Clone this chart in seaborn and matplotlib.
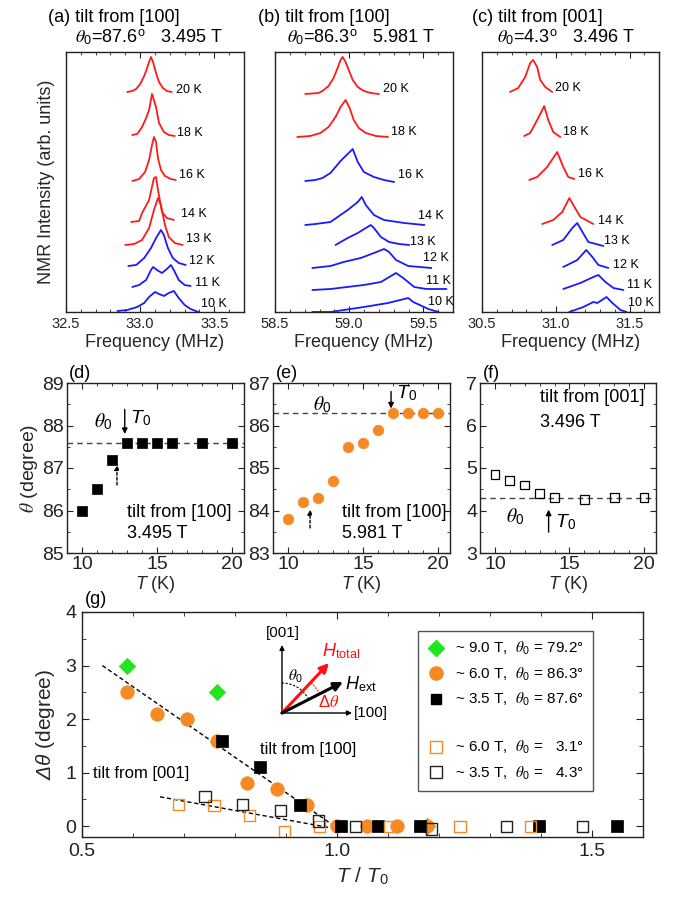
import matplotlib
matplotlib.use("Agg")
import matplotlib.pyplot as plt
from matplotlib.lines import Line2D
from matplotlib.patches import Arc
from matplotlib.ticker import MultipleLocator, FormatStrFormatter
import seaborn as sns

# ---------------- NMR spectra (frequency in MHz, intensity in arb. units) ----------------
TEMPS_A = [20, 18, 16, 14, 13, 12, 11, 10]
T0_A = 13.0
FREQ_A = [
    [32.913, 32.947, 32.973, 33.0, 33.027, 33.047, 33.06, 33.073, 33.087, 33.107, 33.127, 33.153, 33.18, 33.213],
    [32.947, 32.98, 33.013, 33.04, 33.06, 33.08, 33.107, 33.127, 33.16, 33.193, 33.233],
    [32.947, 32.993, 33.033, 33.06, 33.08, 33.093, 33.107, 33.12, 33.14, 33.167, 33.207, 33.24],
    [32.94, 32.993, 33.013, 33.06, 33.093, 33.107, 33.12, 33.147, 33.18, 33.227],
    [32.9, 32.96, 33.013, 33.06, 33.093, 33.12, 33.14, 33.167, 33.193, 33.233, 33.287],
    [32.92, 32.973, 33.027, 33.073, 33.107, 33.14, 33.16, 33.187, 33.22, 33.26, 33.307],
    [32.947, 32.993, 33.04, 33.073, 33.087, 33.113, 33.147, 33.18, 33.207, 33.227, 33.26, 33.3, 33.34],
    [32.847, 32.913, 32.98, 33.027, 33.06, 33.1, 33.127, 33.16, 33.193, 33.227, 33.26, 33.3, 33.34, 33.393],
]
INT_A = [
    [220, 221, 223, 228, 236, 244, 250, 255, 250, 239, 230, 224, 221, 220],
    [177, 178, 185, 194, 202, 218, 205, 189, 180, 177, 176],
    [131, 133, 140, 152, 167, 175, 170, 154, 142, 136, 133, 132],
    [90, 91, 99, 112, 134, 135, 122, 100, 94, 92],
    [67, 68, 72, 84, 102, 114, 107, 87, 75, 69, 67],
    [46, 47, 54, 64, 74, 82, 77, 64, 54, 49, 47],
    [25, 27, 32, 42, 45, 42, 39, 43, 47, 42, 32, 27, 26],
    [1, 2, 5, 9, 15, 20, 18, 16, 19, 21, 14, 7, 3, 0],
]
LABEL_F_A = [33.24, 33.247, 33.26, 33.273, 33.307, 33.327, 33.367, 33.413]
LABEL_I_A = [222, 179, 137, 98, 73, 51, 29, 8]

TEMPS_B = [20, 18, 16, 14, 13, 12, 11, 10]
T0_B = 17.0
FREQ_B = [
    [58.704, 58.793, 58.82, 58.861, 58.895, 58.922, 58.942, 58.956, 58.976, 58.997, 59.024, 59.058, 59.099, 59.146, 59.201],
    [58.65, 58.738, 58.806, 58.861, 58.908, 58.942, 58.976, 59.003, 59.031, 59.065, 59.112, 59.18, 59.262],
    [58.704, 58.772, 58.82, 58.874, 58.942, 58.99, 59.024, 59.058, 59.099, 59.167, 59.235, 59.303],
    [58.704, 58.772, 58.874, 58.99, 59.058, 59.085, 59.112, 59.167, 59.235, 59.371, 59.507],
    [58.908, 58.99, 59.058, 59.112, 59.146, 59.167, 59.214, 59.269, 59.337, 59.405],
    [58.752, 58.874, 58.963, 59.078, 59.167, 59.235, 59.269, 59.316, 59.398, 59.554],
    [58.752, 58.874, 59.099, 59.214, 59.316, 59.364, 59.439, 59.52, 59.656],
    [58.752, 58.874, 59.099, 59.262, 59.398, 59.432, 59.534, 59.602],
]
INT_B = [
    [218, 219, 221, 226, 234, 244, 252, 255, 250, 242, 232, 225, 221, 219, 218],
    [175, 176, 179, 185, 195, 205, 212, 204, 192, 184, 179, 176, 175],
    [131, 132, 134, 139, 151, 158, 163, 150, 140, 135, 132, 130],
    [87, 88, 90, 102, 110, 115, 107, 97, 92, 89, 87],
    [67, 74, 79, 84, 87, 84, 75, 70, 68, 67],
    [44, 46, 50, 54, 59, 63, 60, 52, 46, 44],
    [22, 23, 27, 30, 39, 34, 25, 23, 23],
    [0, 0, 5, 9, 14, 10, 3, 0],
]
LABEL_F_B = [59.228, 59.282, 59.33, 59.466, 59.412, 59.5, 59.52, 59.534]
LABEL_I_B = [223, 180, 137, 96, 70, 54, 31, 10]

TEMPS_C = [20, 18, 16, 14, 13, 12, 11, 10]
T0_C = 13.5
FREQ_C = [
    [30.69, 30.745, 30.793, 30.827, 30.847, 30.874, 30.895, 30.929, 30.976],
    [30.786, 30.827, 30.874, 30.922, 30.949, 30.983, 31.031],
    [30.82, 30.874, 30.942, 31.01, 31.051, 31.085, 31.126],
    [30.908, 30.983, 31.044, 31.092, 31.119, 31.167, 31.255],
    [30.976, 31.051, 31.112, 31.146, 31.173, 31.221, 31.323],
    [31.051, 31.146, 31.207, 31.248, 31.289, 31.357],
    [31.051, 31.167, 31.255, 31.289, 31.337, 31.391, 31.459],
    [31.092, 31.187, 31.255, 31.282, 31.344, 31.384, 31.439, 31.48],
]
INT_C = [
    [220, 224, 235, 249, 252, 245, 232, 225, 220],
    [176, 179, 192, 206, 192, 180, 175],
    [132, 135, 145, 160, 145, 135, 133],
    [88, 92, 100, 114, 107, 95, 88],
    [67, 72, 84, 89, 82, 70, 66],
    [45, 52, 62, 55, 47, 44],
    [23, 29, 35, 37, 30, 24, 22],
    [0, 5, 10, 9, 15, 9, 2, 0],
]
LABEL_F_C = [30.997, 31.051, 31.153, 31.289, 31.33, 31.391, 31.486, 31.493]
LABEL_I_C = [224, 180, 138, 91, 71, 47, 27, 9]

# ---------------- tilt angle vs temperature ----------------
T_D = [10, 11, 12, 13, 14, 15, 16, 18, 20]
THETA_D = [86.0, 86.5, 87.2, 87.6, 87.6, 87.6, 87.6, 87.6, 87.6]
THETA0_D = 87.6

T_E = [10, 11, 12, 13, 14, 15, 16, 17, 18, 19, 20]
THETA_E = [83.8, 84.2, 84.3, 84.7, 85.5, 85.6, 85.9, 86.3, 86.3, 86.3, 86.3]
THETA0_E = 86.3

T_F = [10, 11, 12, 13, 14, 16, 18, 20]
THETA_F = [4.85, 4.7, 4.6, 4.4, 4.3, 4.25, 4.3, 4.3]
THETA0_F = 4.3

# ---------------- deviation vs reduced temperature ----------------
G9_X = [0.588, 0.765, 1.176]
G9_Y = [3.0, 2.5, 0.0]
G6_X = [0.588, 0.647, 0.706, 0.765, 0.824, 0.882, 0.941, 1.0, 1.059, 1.118, 1.176]
G6_Y = [2.5, 2.1, 2.0, 1.6, 0.8, 0.7, 0.4, 0.0, 0.0, 0.0, 0.0]
G35_X = [0.775, 0.849, 0.927, 1.008, 1.080, 1.163, 1.396, 1.549]
G35_Y = [1.6, 1.1, 0.4, 0.0, 0.0, 0.0, 0.0, 0.0]
G6C_X = [0.690, 0.759, 0.828, 0.897, 0.966, 1.103, 1.241, 1.379]
G6C_Y = [0.4, 0.39, 0.2, -0.1, 0.0, 0.0, 0.0, 0.0]
G35C_X = [0.741, 0.815, 0.889, 0.963, 1.037, 1.185, 1.333, 1.481]
G35C_Y = [0.55, 0.4, 0.3, 0.1, 0.0, -0.05, 0.0, 0.0]
FIT100_X = [0.54, 1.0]
FIT100_Y = [3.0, -0.03]
FIT001_X = [0.653, 1.0]
FIT001_Y = [0.55, -0.05]

LEGEND_LABELS = [
    r"~ 9.0 T,  $\theta_{\mathit{0}}$ = 79.2°",
    r"~ 6.0 T,  $\theta_{\mathit{0}}$ = 86.3°",
    r"~ 3.5 T,  $\theta_{\mathit{0}}$ = 87.6°",
    " ",
    r"~ 6.0 T,  $\theta_{\mathit{0}}$ =   3.1°",
    r"~ 3.5 T,  $\theta_{\mathit{0}}$ =   4.3°",
]

# ---------------- style ----------------
sns.set_style("ticks", {"xtick.direction": "in", "ytick.direction": "in"})
plt.rcParams.update({
    "font.family": ["Liberation Sans", "DejaVu Sans"],
    "mathtext.fontset": "custom",
    "mathtext.rm": "Liberation Sans",
    "mathtext.it": "STIXGeneral:italic",
    "mathtext.sf": "Liberation Sans:italic",
    "mathtext.bf": "Liberation Sans:bold",
    "axes.linewidth": 1.0,
    "axes.edgecolor": "#222222",
    "xtick.color": "#222222",
    "ytick.color": "#222222",
    "text.color": "black",
})

RED = "#ff1a1a"
BLUE = "#1a1aff"
ORANGE = "#f58a24"
GREEN = "#1fe61f"

W, H = 673, 901
fig = plt.figure(figsize=(W / 100, H / 100), dpi=100)


def box(l, t, r, b):
    return [l / W, 1 - b / H, (r - l) / W, (b - t) / H]


def ftext(x, y, s, **kw):
    fig.text(x / W, 1 - y / H, s, **kw)


# ---------------- spectra panels ----------------
ax_a = fig.add_axes(box(66, 52, 244, 312))
ax_b = fig.add_axes(box(275, 52, 453, 312))
ax_c = fig.add_axes(box(482, 52, 659, 312))

spectra = [
    (ax_a, 32.5, TEMPS_A, T0_A, FREQ_A, INT_A, LABEL_F_A, LABEL_I_A),
    (ax_b, 58.5, TEMPS_B, T0_B, FREQ_B, INT_B, LABEL_F_B, LABEL_I_B),
    (ax_c, 30.5, TEMPS_C, T0_C, FREQ_C, INT_C, LABEL_F_C, LABEL_I_C),
]
for ax, x0, temps, t0, freqs, ints, lf, li in spectra:
    for T, f, I, fx, iy in zip(temps, freqs, ints, lf, li):
        col = RED if T >= t0 else BLUE
        sns.lineplot(x=f, y=I, ax=ax, color=col, lw=1.3, sort=False, estimator=None)
        ax.text(fx, iy, f"{T} K", fontsize=9, ha="left", va="center")
    ax.set_xlim(x0, x0 + 1.2)
    ax.set_ylim(0, 260)
    ax.set_yticks([])
    ax.set_ylabel("")
    ax.xaxis.set_major_locator(MultipleLocator(0.5))
    ax.xaxis.set_minor_locator(MultipleLocator(0.1))
    ax.xaxis.set_major_formatter(FormatStrFormatter("%.1f"))
    ax.tick_params(which="both", top=True, direction="in", labelsize=10.5)
    ax.tick_params(which="major", length=4)
    ax.tick_params(which="minor", length=2.5)
    ax.set_xlabel("Frequency (MHz)", fontsize=13, labelpad=2)

ax_a.set_ylabel("NMR Intensity (arb. units)", fontsize=13, labelpad=8)

ftext(48, 22, "(a) tilt from [100]", fontsize=13, va="baseline")
ftext(258, 22, "(b) tilt from [100]", fontsize=13, va="baseline")
ftext(472, 22, "(c) tilt from [001]", fontsize=13, va="baseline")
ftext(75, 43, r"$\theta_0$=87.6$^{\rm o}$   3.495 T", fontsize=13, va="baseline")
ftext(287, 43, r"$\theta_0$=86.3$^{\rm o}$   5.981 T", fontsize=13, va="baseline")
ftext(497, 43, r"$\theta_0$=4.3$^{\rm o}$   3.496 T", fontsize=13, va="baseline")

# ---------------- angle panels ----------------
ax_d = fig.add_axes(box(67, 383, 244, 553))
ax_e = fig.add_axes(box(273, 383, 450, 553))
ax_f = fig.add_axes(box(480, 383, 656, 553))

sns.scatterplot(x=T_D, y=THETA_D, ax=ax_d, marker="s", s=45, color="black",
                edgecolor="black", linewidth=0.5, zorder=3)
sns.scatterplot(x=T_E, y=THETA_E, ax=ax_e, marker="o", s=58, color=ORANGE,
                edgecolor=ORANGE, linewidth=0.5, zorder=3)
sns.scatterplot(x=T_F, y=THETA_F, ax=ax_f, marker="s", s=40, color="black",
                facecolor="none", edgecolor="black", linewidth=0.9, zorder=3)

for ax, th0, lo in ((ax_d, THETA0_D, 85), (ax_e, THETA0_E, 83), (ax_f, THETA0_F, 3)):
    ax.axhline(th0, color="#444444", lw=1, ls=(0, (4, 3)), zorder=1)
    ax.set_xlim(9, 20.8)
    ax.set_ylim(lo, lo + 4)
    ax.xaxis.set_major_locator(MultipleLocator(5))
    ax.xaxis.set_minor_locator(MultipleLocator(1))
    ax.yaxis.set_major_locator(MultipleLocator(1))
    ax.yaxis.set_minor_locator(MultipleLocator(0.5))
    ax.tick_params(which="both", top=True, right=True, direction="in", labelsize=14)
    ax.tick_params(which="major", length=4, pad=2)
    ax.tick_params(which="minor", length=2)
    ax.set_xlabel(r"$\mathsf{T}$ (K)", fontsize=13, labelpad=1)
    ax.set_ylabel("")

ax_d.set_ylabel(r"$\theta$ (degree)", fontsize=14, labelpad=2)

ftext(69, 373, "(d)", fontsize=13, va="center")
ftext(276, 373, "(e)", fontsize=13, va="center")
ftext(483, 373, "(f)", fontsize=13, va="center")

arrow_kw = dict(arrowstyle="-|>", color="black", lw=1, mutation_scale=8, shrinkA=0, shrinkB=0)
dash_kw = dict(arrowstyle="-|>", color="black", lw=1, ls=(0, (2, 1.5)), mutation_scale=7,
               shrinkA=0, shrinkB=0)

# (d)
ax_d.text(11.4, 88.08, r"$\theta_0$", fontsize=14, ha="center", va="center")
ax_d.annotate("", xy=(12.85, 87.8), xytext=(12.85, 88.38), arrowprops=arrow_kw)
ax_d.text(13.2, 88.18, r"$\mathsf{T}_0$", fontsize=14, ha="left", va="center")
ax_d.annotate("", xy=(12.33, 87.07), xytext=(12.33, 86.6), arrowprops=dash_kw)
ax_d.text(13.0, 85.96, "tilt from [100]", fontsize=13, ha="left", va="center")
ax_d.text(13.0, 85.45, "3.495 T", fontsize=13, ha="left", va="center")

# (e)
ax_e.text(12.27, 86.5, r"$\theta_0$", fontsize=14, ha="center", va="center")
ax_e.annotate("", xy=(16.87, 86.4), xytext=(16.87, 86.8), arrowprops=arrow_kw)
ax_e.text(17.2, 86.76, r"$\mathsf{T}_0$", fontsize=14, ha="left", va="center")
ax_e.annotate("", xy=(11.47, 84.02), xytext=(11.47, 83.59), arrowprops=dash_kw)
ax_e.text(13.6, 83.96, "tilt from [100]", fontsize=13, ha="left", va="center")
ax_e.text(13.6, 83.45, "5.981 T", fontsize=13, ha="left", va="center")

# (f)
ax_f.text(13.0, 6.65, "tilt from [001]", fontsize=13, ha="left", va="center")
ax_f.text(13.0, 6.08, "3.496 T", fontsize=13, ha="left", va="center")
ax_f.text(11.33, 3.85, r"$\theta_0$", fontsize=14, ha="center", va="center")
ax_f.annotate("", xy=(13.6, 4.02), xytext=(13.6, 3.49), arrowprops=arrow_kw)
ax_f.text(14.0, 3.73, r"$\mathsf{T}_0$", fontsize=14, ha="left", va="center")

# ---------------- deviation panel ----------------
ax_g = fig.add_axes(box(82, 612, 643, 837))
sns.lineplot(x=FIT100_X, y=FIT100_Y, ax=ax_g, color="black", lw=1, ls=(0, (3, 2)),
             sort=False, estimator=None, zorder=2)
sns.lineplot(x=FIT001_X, y=FIT001_Y, ax=ax_g, color="black", lw=1, ls=(0, (3, 2)),
             sort=False, estimator=None, zorder=2)
sns.scatterplot(x=G9_X, y=G9_Y, ax=ax_g, marker="D", s=70, color=GREEN,
                edgecolor=GREEN, linewidth=0.5, zorder=3)
sns.scatterplot(x=G6_X, y=G6_Y, ax=ax_g, marker="o", s=95, color=ORANGE,
                edgecolor=ORANGE, linewidth=0.5, zorder=4)
sns.scatterplot(x=G35_X, y=G35_Y, ax=ax_g, marker="s", s=75, color="black",
                edgecolor="black", linewidth=0.5, zorder=5)
sns.scatterplot(x=G6C_X, y=G6C_Y, ax=ax_g, marker="s", s=65, color=ORANGE,
                facecolor="none", edgecolor=ORANGE, linewidth=1.0, zorder=6)
sns.scatterplot(x=G35C_X, y=G35C_Y, ax=ax_g, marker="s", s=65, color="black",
                facecolor="none", edgecolor="#222222", linewidth=1.0, zorder=6)

ax_g.set_xlim(0.5, 1.6)
ax_g.set_ylim(-0.2, 4)
ax_g.xaxis.set_major_locator(MultipleLocator(0.5))
ax_g.xaxis.set_minor_locator(MultipleLocator(0.1))
ax_g.xaxis.set_major_formatter(FormatStrFormatter("%.1f"))
ax_g.yaxis.set_major_locator(MultipleLocator(1))
ax_g.yaxis.set_minor_locator(MultipleLocator(0.5))
ax_g.tick_params(which="both", top=True, right=True, direction="in", labelsize=14)
ax_g.tick_params(which="major", length=5, pad=4)
ax_g.tick_params(which="minor", length=3)
ax_g.set_xlabel(r"$\mathsf{T}$ / $\mathsf{T}_0$", fontsize=15, labelpad=4)
ax_g.set_ylabel(r"$\mathsf{\Delta\theta}$ (degree)", fontsize=15, labelpad=6)

ax_g.text(0.849, 1.43, "tilt from [100]", fontsize=12, ha="left", va="center")
ax_g.text(0.522, 0.99, "tilt from [001]", fontsize=12, ha="left", va="center")
ftext(85, 600, "(g)", fontsize=13, va="center")

handles = [
    Line2D([], [], ls="none", marker="D", ms=8.5, mfc=GREEN, mec=GREEN),
    Line2D([], [], ls="none", marker="o", ms=9.5, mfc=ORANGE, mec=ORANGE),
    Line2D([], [], ls="none", marker="s", ms=7.5, mfc="black", mec="black"),
    Line2D([], [], ls="none"),
    Line2D([], [], ls="none", marker="s", ms=8, mfc="none", mec=ORANGE, mew=1),
    Line2D([], [], ls="none", marker="s", ms=8, mfc="none", mec="#222222", mew=1),
]
leg = ax_g.legend(handles, LEGEND_LABELS, loc="upper left", bbox_to_anchor=(0.599, 0.916),
                  fontsize=11, frameon=True, fancybox=False, framealpha=1,
                  edgecolor="#555555", labelspacing=0.55, handlelength=1.2,
                  handletextpad=0.6, borderpad=0.6, borderaxespad=0)
leg.get_frame().set_linewidth(1.0)

# vector sketch of the field directions
ax_in = fig.add_axes(box(262, 622, 412, 730))
ax_in.set_xlim(262, 412)
ax_in.set_ylim(H - 730, H - 622)
ax_in.axis("off")
ox, oy = 282, H - 713
ax_in.annotate("", xy=(282, H - 645), xytext=(ox, oy),
               arrowprops=dict(arrowstyle="-|>", color="black", lw=1, mutation_scale=7,
                               shrinkA=0, shrinkB=0))
ax_in.annotate("", xy=(352, oy), xytext=(ox, oy),
               arrowprops=dict(arrowstyle="-|>", color="black", lw=1, mutation_scale=7,
                               shrinkA=0, shrinkB=0))
ax_in.annotate("", xy=(329, H - 663), xytext=(ox, oy),
               arrowprops=dict(arrowstyle="-|>", color="#ff1010", lw=2.2, mutation_scale=13,
                               shrinkA=0, shrinkB=0))
ax_in.annotate("", xy=(343, H - 682), xytext=(ox, oy),
               arrowprops=dict(arrowstyle="-|>", color="black", lw=2.2, mutation_scale=13,
                               shrinkA=0, shrinkB=0))
ax_in.add_patch(Arc((ox, oy), 60, 60, theta1=27, theta2=90, color="black", lw=0.8,
                    ls=(0, (2, 1.5))))
ax_in.add_patch(Arc((ox, oy), 84, 84, theta1=27, theta2=47, color="#ff1010", lw=0.8,
                    ls=(0, (1.5, 1.2))))
ax_in.text(283, H - 633, "[001]", fontsize=11, ha="center", va="center")
ax_in.text(354, oy, "[100]", fontsize=11, ha="left", va="center")
ax_in.text(322, H - 651, r"$\mathsf{H}_{\rm total}$", fontsize=13, color="#ff1010",
           ha="left", va="center")
ax_in.text(345, H - 684, r"$\mathsf{H}_{\rm ext}$", fontsize=13, color="black",
           ha="left", va="center")
ax_in.text(295, H - 676, r"$\theta_0$", fontsize=11, ha="center", va="center")
ax_in.text(329, H - 702, r"$\Delta\theta$", fontsize=12, color="#ff1010",
           ha="center", va="center")

fig.savefig("out.png", dpi=100)
